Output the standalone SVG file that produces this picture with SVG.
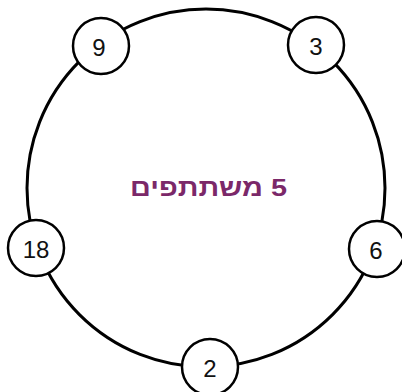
<svg xmlns="http://www.w3.org/2000/svg" width="402" height="392" viewBox="0 0 402 392">
<style>
.ring{fill:none;stroke:#000;stroke-width:3}
.node circle{fill:#fff;stroke:#000;stroke-width:2.5}
.node text{font-family:"Liberation Sans",Arial,sans-serif;font-size:24px;fill:#111;text-anchor:middle;dominant-baseline:central}
.title{font-family:"Liberation Sans",Arial,sans-serif;font-size:24px;font-weight:bold;fill:#7B2869;text-anchor:middle}
</style>
<rect width="402" height="392" fill="#fff"/>
<g id="connectors">
<circle class="ring" cx="206" cy="188" r="179"/>
</g>
<text class="title" x="208.5" y="196" direction="rtl" textLength="157" lengthAdjust="spacingAndGlyphs">5 משתתפים</text>
<g id="n9" class="node"><circle cx="101" cy="46" r="28"/><text x="99" y="47">9</text></g>
<g id="n3" class="node"><circle cx="316" cy="45" r="28"/><text x="316" y="46">3</text></g>
<g id="n18" class="node"><circle cx="36" cy="248" r="28"/><text x="36" y="249">18</text></g>
<g id="n6" class="node"><circle cx="377" cy="249" r="28"/><text x="376" y="250">6</text></g>
<g id="n2" class="node"><circle cx="210" cy="367" r="28"/><text x="210" y="368">2</text></g>
</svg>
